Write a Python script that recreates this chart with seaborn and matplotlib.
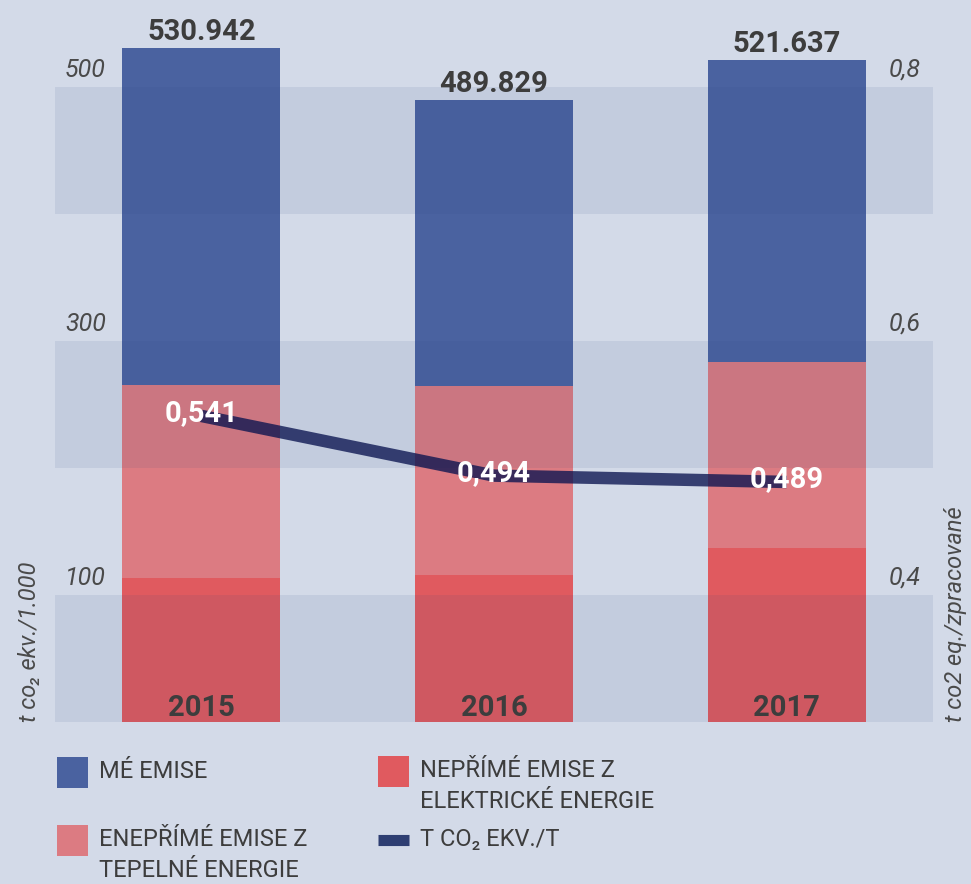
import numpy as np
import matplotlib
matplotlib.use("Agg")
import matplotlib.pyplot as plt
from matplotlib.patches import Rectangle
from matplotlib.lines import Line2D
import matplotlib.transforms as mtransforms
import seaborn as sns

# data
years = ["2015", "2016", "2017"]
elec = [113.4, 115.7, 137.0]      # nepřímé emise z elektrické energie
heat = [152.0, 148.8, 146.5]      # nepřímé emise z tepelné energie
direct = [265.5, 225.3, 238.1]    # přímé emise
totals = [530.942, 489.829, 521.637]
intensity = [0.541, 0.494, 0.489]  # t CO2 ekv./t

left_ticks = [100, 300, 500]
right_ticks = ["0,4", "0,6", "0,8"]

bg = "#d3dae8"
c_blue = "#4a62a0"
c_red = "#e05a5f"
c_pink = "#dc7b82"
c_line = "#0a1450"
c_text = "#3d3d3d"

sns.set_style("white")
plt.rcParams["font.family"] = ["Roboto", "DejaVu Sans"]

W, H = 971, 884
fig = plt.figure(figsize=(W / 100, H / 100), dpi=100, facecolor=bg)

ax = fig.add_axes([55 / W, 1 - 722 / H, 878 / W, 711.2 / H])
ax.set_facecolor(bg)

# stacked bars drawn as overlapping cumulative bars
stack_top = np.array(elec) + np.array(heat) + np.array(direct)
stack_mid = np.array(elec) + np.array(heat)
for vals, col in [(stack_top, c_blue), (stack_mid, c_pink), (elec, c_red)]:
    sns.barplot(x=years, y=vals, color=col, saturation=1, width=0.54, ax=ax,
                linewidth=0, edgecolor=col, zorder=2)

ax.set_xlim(-0.5, 2.5)
ax.set_ylim(0, 560)

# darker horizontal bands
for lo in [0, 200, 400]:
    ax.axhspan(lo, lo + 100, color="#2a4680", alpha=0.09, lw=0, zorder=3)

sns.despine(ax=ax, left=True, bottom=True)
ax.set_xticks([])
ax.set_yticks([])
ax.set_xlabel("")
ax.set_ylabel("")

# tick labels inside the plot area
tr = mtransforms.blended_transform_factory(ax.transAxes, ax.transData)
for v, r in zip(left_ticks, right_ticks):
    ax.text(10 / 878, v + 8, str(v), transform=tr, ha="left", va="baseline",
            fontsize=18, style="italic", color="#4a4a4a", zorder=5)
    ax.text(866 / 878, v + 8, r, transform=tr, ha="right", va="baseline",
            fontsize=18, style="italic", color="#4a4a4a", zorder=5)

# totals above bars and years at the bar base
for i, (t, y) in enumerate(zip(totals, years)):
    ax.text(i, t + 6, f"{t:.3f}", ha="center", va="baseline", fontsize=21,
            fontweight="bold", color=c_text, zorder=5)
    ax.text(i, 5, y, ha="center", va="baseline", fontsize=21,
            fontweight="bold", color=c_text, zorder=5)

# intensity line on the right scale
ax2 = ax.twinx()
sns.lineplot(x=[0, 1, 2], y=intensity, ax=ax2, color=c_line, lw=9, alpha=0.78,
             solid_capstyle="butt")
ax2.set_xlim(-0.5, 2.5)
ax2.set_ylim(0.3, 0.86)
ax2.set_yticks([])
ax2.set_ylabel("")
for s in ax2.spines.values():
    s.set_visible(False)
for i, v in enumerate(intensity):
    ax2.text(i, v - 0.004, f"{v:.3f}".replace(".", ","), ha="center", va="baseline",
             fontsize=21, fontweight="bold", color="white", zorder=6)

# axis titles
fig.text(30 / W, 1 - 722 / H, "t co\u2082 ekv./1.000", rotation=90, ha="center",
         va="bottom", fontsize=17, style="italic", color="#4a4a4a")
fig.text(955 / W, 1 - 722 / H, "t co2 eq./zpracované", rotation=90, ha="center",
         va="bottom", fontsize=17, style="italic", color="#4a4a4a")

# legend
def fx(x):
    return x / W


def fy(y):
    return 1 - y / H


legend_items = [
    (57, 757, c_blue, "MÉ EMISE"),
    (378, 756, c_red, "NEPŘÍMÉ EMISE Z\nELEKTRICKÉ ENERGIE"),
    (57, 825, c_pink, "ENEPŘÍMÉ EMISE Z\nTEPELNÉ ENERGIE"),
]
for x0, y0, col, lab in legend_items:
    fig.patches.append(Rectangle((fx(x0), fy(y0 + 31)), 31 / W, 31 / H,
                                 transform=fig.transFigure, color=col, lw=0))
    fig.text(fx(x0 + 42), fy(y0 + 3), lab, ha="left", va="top", fontsize=17,
             color=c_text, linespacing=1.45)

fig.lines.append(Line2D([fx(378), fx(409)], [fy(840), fy(840)], transform=fig.transFigure,
                        color="#2e3e72", lw=8, solid_capstyle="butt"))
fig.text(fx(420), fy(828), "T CO\u2082 EKV./T", ha="left", va="top", fontsize=17,
         color=c_text)

fig.savefig("out.png", dpi=100, facecolor=bg)
